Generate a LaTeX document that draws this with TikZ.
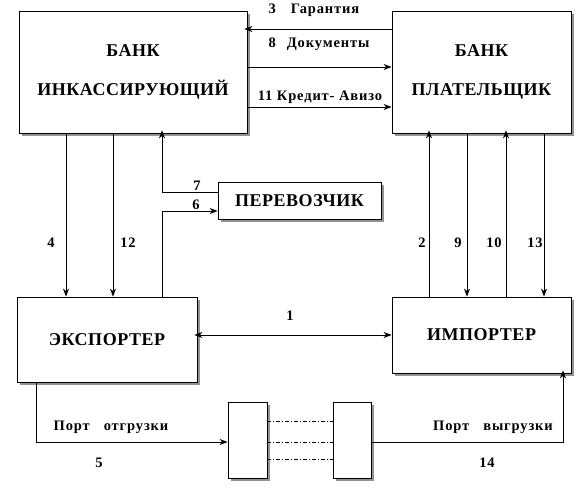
\documentclass[tikz,border=0pt]{standalone}
\usepackage{fontspec}
\setmainfont{Liberation Serif}
\usetikzlibrary{arrows.meta,shadows}
\tikzset{
  box/.style={draw, line width=0.8pt, fill=white, inner sep=0pt,
    drop shadow={shadow xshift=3pt, shadow yshift=-3pt, fill=gray!85, opacity=1},
    font=\fontsize{18}{21}\selectfont\bfseries\addfontfeature{LetterSpace=3}, align=center},
  lbl/.style={font=\fontsize{14.5}{16}\selectfont\bfseries\addfontfeature{LetterSpace=6}, inner sep=0pt},
  tip/.tip={Stealth[length=8pt,width=6pt,inset=2.5pt]},
  arr/.style={line width=0.8pt, -tip},
  darr/.style={line width=0.8pt, tip-tip},
  dd/.style={line width=0.6pt, dash pattern=on 4pt off 2pt on 1pt off 2pt}
}
\begin{document}
\begin{tikzpicture}[x=1pt,y=-1pt]
\useasboundingbox (0,0) rectangle (585,493);
% boxes
\node[box, minimum width=228pt, minimum height=122pt] (b1) at (133,72)
  {БАНК\\[18pt]ИНКАССИРУЮЩИЙ};
\node[box, minimum width=179pt, minimum height=122pt] (b2) at (481.5,72)
  {БАНК\\[18pt]ПЛАТЕЛЬЩИК};
\node[box, minimum width=163pt, minimum height=37pt] (per) at (299.5,200.5)
  {ПЕРЕВОЗЧИК};
\node[box, minimum width=180pt, minimum height=85pt] (exp) at (107,339.5)
  {ЭКСПОРТЕР};
\node[box, minimum width=179pt, minimum height=76pt] (imp) at (481.5,335)
  {ИМПОРТЕР};
\node[box, minimum width=39pt, minimum height=76pt] (pa) at (247.5,440) {};
\node[box, minimum width=38pt, minimum height=76pt] (pb) at (352,440) {};
% top arrows
\draw[arr, shorten >=-3pt] (b2.west |- 0,29) -- (b1.east |- 0,29);
\draw[arr] (b1.east |- 0,67) -- (b2.west |- 0,67);
\draw[arr] (b1.east |- 0,107) -- (b2.west |- 0,107);
\node[lbl] (t3) at (314,10) {3\hspace{15pt}Гарантия};
\node[lbl] (t8) at (319,44) {8\hspace{11pt}Документы};
\node[lbl] (t11) at (320,97) {11 Кредит- Авизо};
% left verticals
\draw[arr] (b1.south -| 66,0) -- (exp.north -| 66,0);
\draw[arr] (b1.south -| 113,0) -- (exp.north -| 113,0);
\node[lbl] (t4) at (51,243) {4};
\node[lbl] (t12) at (128,243) {12};
% carrier
\coordinate (c7) at (162,192);
\coordinate (c6) at (162,211);
\draw[arr, shorten >=-3pt] (per.west |- c7) -- (c7) -- (b1.south -| c7);
\draw[arr] (exp.north -| c6) -- (c6) -- (per.west |- c6);
\node[lbl] (t7) at (197,186) {7};
\node[lbl] (t6) at (196,205) {6};
% right verticals
\draw[arr, shorten >=-3pt] (imp.north -| 429,0) -- (b2.south -| 429,0);
\draw[arr] (b2.south -| 467,0) -- (imp.north -| 467,0);
\draw[arr, shorten >=-3pt] (imp.north -| 506,0) -- (b2.south -| 506,0);
\draw[arr] (b2.south -| 544,0) -- (imp.north -| 544,0);
\node[lbl] (t2) at (422,243) {2};
\node[lbl] (t9) at (458,243) {9};
\node[lbl] (t10) at (494,243) {10};
\node[lbl] (t13) at (535,243) {13};
% 1
\draw[darr, shorten <=-3pt] (exp.east |- 0,335) -- (imp.west |- 0,335);
\node[lbl] (t1) at (290,316) {1};
% bottom
\coordinate (e5) at (36,442);
\draw[arr] (exp.south -| e5) -- (e5) -- (pa.west |- e5);
\node[lbl] (tp1) at (111,427) {Порт\hspace{14pt}отгрузки};
\node[lbl] (t5) at (99,463) {5};
\draw[dd] (pa.east |- 0,421) -- (pb.west |- 0,421);
\draw[dd] (pa.east |- 0,442) -- (pb.west |- 0,442);
\draw[dd] (pa.east |- 0,459) -- (pb.west |- 0,459);
\coordinate (i14) at (563,442);
\draw[arr, shorten >=-3pt] (pb.east |- i14) -- (i14) -- (imp.south -| i14);
\node[lbl] (tp2) at (493,427) {Порт\hspace{14pt}выгрузки};
\node[lbl] (t14) at (487,463) {14};
\end{tikzpicture}
\end{document}
